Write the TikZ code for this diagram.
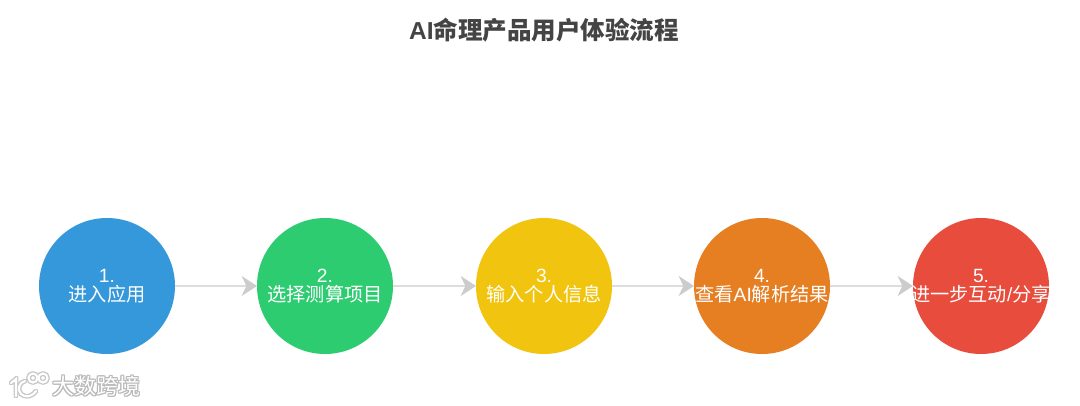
\documentclass[tikz,border=0pt]{standalone}
\usepackage{fontspec}
\setmainfont{Liberation Sans}
\newfontfamily\cjk{Noto Sans CJK SC}
\usetikzlibrary{arrows.meta}
\definecolor{cblue}{HTML}{3498DB}
\definecolor{cgreen}{HTML}{2ECC71}
\definecolor{cyellow}{HTML}{F1C40F}
\definecolor{corange}{HTML}{E67E22}
\definecolor{cred}{HTML}{E74C3C}
\definecolor{titlegray}{HTML}{444444}
\definecolor{linegray}{HTML}{DDDDDD}
\definecolor{headgray}{HTML}{CCCCCC}
\tikzset{
  x=0.75pt,y=-0.75pt,
  stepcircle/.style={circle,minimum size=102pt,inner sep=-10pt,outer sep=0pt,text=white,
    font=\fontsize{14.4pt}{14.3pt}\selectfont,align=center},
  flow/.style={draw=linegray,line width=1pt,
    -{Stealth[length=11.5pt,width=15pt,inset=3.5pt,color=headgray]}},
  wmshadow/.style={inner sep=0pt,text=black!28,font=\cjk\fontsize{16.5pt}{16.5pt}\selectfont},
  wmtop/.style={inner sep=0pt,text=white,font=\cjk\fontsize{16.5pt}{16.5pt}\selectfont},
  wmlogo/.style={draw=#1,line width=1.6pt,line cap=round},
}
\begin{document}
\begin{tikzpicture}
\useasboundingbox (0,0) rectangle (1080,406);
\fill[white] (0,0) rectangle (1080,406);
\node[inner sep=0pt,text=titlegray,font=\fontsize{18.4pt}{20pt}\selectfont\bfseries] (title) at (544,30) {AI{\cjk\bfseries 命理产品用户体验流程}};
\node[stepcircle,fill=cblue] (s1) at (107,286) {1.\\{\cjk 进入应用}};
\node[stepcircle,fill=cgreen] (s2) at (325,286) {2.\\{\cjk 选择测算项目}};
\node[stepcircle,fill=cyellow] (s3) at (544,286) {3.\\{\cjk 输入个人信息}};
\node[stepcircle,fill=corange] (s4) at (762,286) {4.\\{\cjk 查看}AI{\cjk 解析结果}};
\node[stepcircle,fill=cred] (s5) at (981,286) {5.\\{\cjk 进一步互动}/{\cjk 分享}};
\draw[flow] (s1) -- (s2);
\draw[flow] (s2) -- (s3);
\draw[flow] (s3) -- (s4);
\draw[flow] (s4) -- (s5);
% watermark
\foreach \dx/\dy [count=\i] in {-1/0,1/0,0/-1,0/1,-1/-1,1/1,1/-1,-1/1}{
  \node[wmshadow] (wm\i) at (96+\dx,386+\dy) {大数跨境};
  \draw[wmlogo=black!22,xshift=\dx*0.75pt,yshift=-\dy*0.75pt]
    (11,383) -- (16,379) -- (16,396)
    (25,381) .. controls (19,382) and (17,390) .. (21,394) .. controls (25,398) and (32,397) .. (36,391)
    (33,378) circle (4.5) (43,378) circle (4.5);
}
\node[wmtop] (wmtext) at (96,386) {大数跨境};
\draw[wmlogo=white]
    (11,383) -- (16,379) -- (16,396)
    (25,381) .. controls (19,382) and (17,390) .. (21,394) .. controls (25,398) and (32,397) .. (36,391)
    (33,378) circle (4.5) (43,378) circle (4.5);
\end{tikzpicture}
\end{document}
